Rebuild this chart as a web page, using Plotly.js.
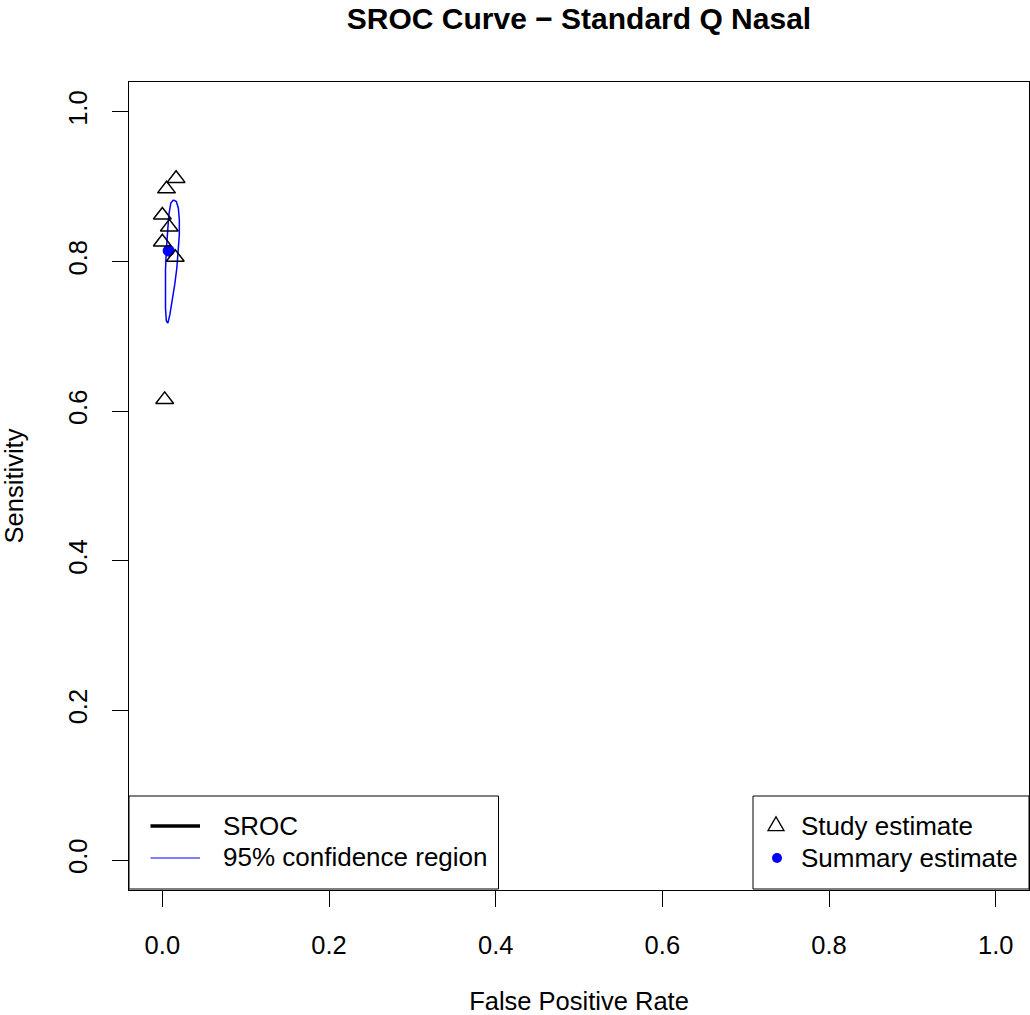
<!DOCTYPE html>
<html>
<head>
<meta charset="utf-8">
<script src="https://cdn.plot.ly/plotly-3.0.1.min.js"></script>
<style>html,body{margin:0;padding:0;background:#fff;}#chart{width:1030px;height:1015px;}</style>
</head>
<body>
<div id="chart"></div>
<script>
// ---- data ----
var studyFPR  = [0.0165, 0.0050, 0.0000, 0.0084, 0.0000, 0.0155, 0.0028];
var studySens = [0.911, 0.897, 0.862, 0.846, 0.826, 0.8055, 0.6154];

var summaryFPR  = [0.0076];
var summarySens = [0.8146];

var regionFPR  = [0.0132, 0.0168, 0.0192, 0.0204, 0.0204, 0.0192, 0.0174, 0.0150, 0.0120, 0.0090,
                  0.0066, 0.0048, 0.0038, 0.0036, 0.0038, 0.0048, 0.0060, 0.0078, 0.0102, 0.0132];
var regionSens = [0.8824, 0.8803, 0.8717, 0.8556, 0.8356, 0.8128, 0.7914, 0.7701, 0.7473, 0.7286,
                  0.7179, 0.7206, 0.7380, 0.7620, 0.7888, 0.8155, 0.8396, 0.8623, 0.8783, 0.8824];

var tickVals   = [0, 0.2, 0.4, 0.6, 0.8, 1.0];
var tickLabels = ["0.0", "0.2", "0.4", "0.6", "0.8", "1.0"];

var titleText  = "SROC Curve \u2212 Standard Q Nasal";
var xTitle     = "False Positive Rate";
var yTitle     = "Sensitivity";
var legendLeft  = ["SROC", "95% confidence region"];
var legendRight = ["Study estimate", "Summary estimate"];

// ---- layout geometry (pixels) ----
var W = 1030, H = 1015;
var L = 129, R = 1, T = 82, B = 125;
var PW = W - L - R, PH = H - T - B;
function px(x) { return (x - L) / PW; }
function py(y) { return (H - B - y) / PH; }

var FONT = "Liberation Sans, Arial, Helvetica, sans-serif";

var traces = [
  {
    x: regionFPR, y: regionSens, type: "scatter", mode: "lines",
    line: {color: "#0000ff", width: 1.5}, hoverinfo: "skip", showlegend: false
  },
  {
    x: summaryFPR, y: summarySens, type: "scatter", mode: "markers",
    marker: {symbol: "circle", size: 12, color: "#0000ff"}, showlegend: false
  },
  {
    x: studyFPR, y: studySens, type: "scatter", mode: "markers",
    marker: {symbol: "triangle-up-open", size: 15.5, color: "#000000", line: {width: 1.5, color: "#000000"}},
    showlegend: false
  }
];

var shapes = [
  // left legend box
  {type: "rect", xref: "paper", yref: "paper", x0: px(129), x1: px(498.5), y0: py(889), y1: py(796),
   line: {color: "#000", width: 1}, fillcolor: "#fff", layer: "above"},
  // right legend box
  {type: "rect", xref: "paper", yref: "paper", x0: px(753), x1: px(1029), y0: py(889), y1: py(796),
   line: {color: "#000", width: 1}, fillcolor: "#fff", layer: "above"},
  // SROC key line
  {type: "line", xref: "paper", yref: "paper", x0: px(150.5), x1: px(200), y0: py(826), y1: py(826),
   line: {color: "#000", width: 3.5}},
  // CR key line
  {type: "line", xref: "paper", yref: "paper", x0: px(150.5), x1: px(200), y0: py(858), y1: py(858),
   line: {color: "#0000ff", width: 1.2}},
  // triangle key
  {type: "path", xref: "paper", yref: "paper",
   path: "M" + px(776 - 8) + "," + py(826 + 4.6) + " L" + px(776 + 8) + "," + py(826 + 4.6) +
         " L" + px(776) + "," + py(826 - 9.2) + " Z",
   line: {color: "#000", width: 1.3}, fillcolor: "rgba(0,0,0,0)"},
  // dot key
  {type: "circle", xref: "paper", yref: "paper", x0: px(777 - 5), x1: px(777 + 5), y0: py(858 + 5), y1: py(858 - 5),
   line: {color: "#0000ff", width: 0}, fillcolor: "#0000ff"}
];

function legText(t, x, y) {
  return {text: t, xref: "paper", yref: "paper", x: px(x), y: py(y), xanchor: "left", yanchor: "middle",
          showarrow: false, font: {family: FONT, size: 26, color: "#000"}};
}

var annotations = [
  legText(legendLeft[0], 221, 826),
  legText(legendLeft[1], 221, 857),
  legText(legendRight[0], 799, 826),
  legText(legendRight[1], 799, 858)
];

var axisCommon = {
  range: [-0.04, 1.04], tickvals: tickVals, ticktext: tickLabels,
  showgrid: false, zeroline: false, showline: true, mirror: true,
  linecolor: "#000", linewidth: 1, ticks: "outside", ticklen: 16, tickwidth: 1, tickcolor: "#000",
  tickfont: {family: FONT, size: 25.5, color: "#000"}, fixedrange: true
};

var layout = {
  width: W, height: H,
  margin: {l: L, r: R, t: T, b: B, pad: 0},
  paper_bgcolor: "#fff", plot_bgcolor: "#fff",
  font: {family: FONT, color: "#000"},
  title: {text: titleText, font: {family: FONT, size: 30, color: "#000", weight: "bold"},
          xref: "paper", x: 0.5, xanchor: "center", yref: "container", y: 1 - 18.5 / H, yanchor: "middle"},
  xaxis: Object.assign({}, axisCommon, {
    ticklabelstandoff: 16,
    title: {text: xTitle, font: {family: FONT, size: 25.5, color: "#000"}, standoff: 38}
  }),
  yaxis: Object.assign({}, axisCommon, {
    tickangle: -90, ticklabelstandoff: 15,
    title: {text: yTitle, font: {family: FONT, size: 25.5, color: "#000"}, standoff: 34}
  }),
  shapes: shapes,
  annotations: annotations,
  showlegend: false
};

Plotly.newPlot("chart", traces, layout, {displayModeBar: false, staticPlot: true});
</script>
</body>
</html>
